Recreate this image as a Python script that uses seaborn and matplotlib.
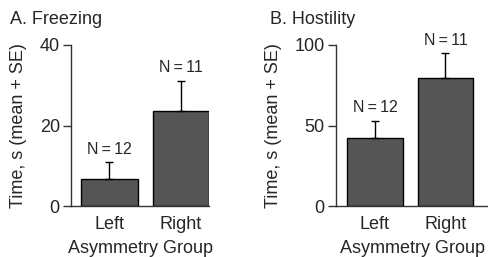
import matplotlib
matplotlib.use("Agg")
import matplotlib.pyplot as plt
import pandas as pd
import seaborn as sns

groups = ["Left", "Right"]
freezing_mean = [6.8, 23.7]
freezing_se = [4.1, 7.4]
hostility_mean = [42.2, 79.7]
hostility_se = [10.6, 15.1]
n_labels = ["N\u2009=\u200912", "N\u2009=\u200911"]

sns.set_style("ticks")
plt.rcParams["font.family"] = ["Liberation Sans", "DejaVu Sans"]

fig = plt.figure(figsize=(4.89, 2.57), dpi=100)
ax_a = fig.add_axes([0.145, 0.198, 0.283, 0.627])
ax_b = fig.add_axes([0.687, 0.198, 0.313, 0.627])

panels = [
    (ax_a, freezing_mean, freezing_se, 40, [0, 20, 40], (-0.535, 1.394)),
    (ax_b, hostility_mean, hostility_se, 100, [0, 50, 100], (-0.553, 1.617)),
]

for ax, mean, se, ymax, yticks, xlim in panels:
    df = pd.DataFrame({"group": groups, "value": mean})
    sns.barplot(data=df, x="group", y="value", ax=ax, color="#555555",
                saturation=1, width=0.79, edgecolor="black", linewidth=1,
                errorbar=None)
    # only the upper half of the SE bar is shown
    ax.errorbar([0, 1], mean, yerr=[[0, 0], se], fmt="none", ecolor="black",
                elinewidth=1, capsize=3, capthick=1)
    for i, lab in enumerate(n_labels):
        ax.text(i, mean[i] + se[i] + ymax * 0.035, lab, ha="center", va="bottom",
                fontsize=11.5, clip_on=False)
    ax.set_ylim(0, ymax)
    ax.set_xlim(*xlim)
    ax.set_yticks(yticks)
    ax.tick_params(axis="y", length=6, width=1, labelsize=13, pad=2, color="#333333")
    ax.tick_params(axis="x", length=0, labelsize=13, pad=7)
    ax.set_xlabel("Asymmetry Group", fontsize=13, labelpad=5)
    ax.set_ylabel("Time, s (mean + SE)", fontsize=13, labelpad=9)
    for side in ["top", "right"]:
        ax.spines[side].set_visible(False)
    for side in ["left", "bottom"]:
        ax.spines[side].set_color("#333333")
        ax.spines[side].set_linewidth(1)

fig.text(10 / 489, 1 - 19 / 257, "A. Freezing", fontsize=13, va="center", ha="left")
fig.text(270 / 489, 1 - 19 / 257, "B. Hostility", fontsize=13, va="center", ha="left")

fig.savefig("out.png", dpi=100)
